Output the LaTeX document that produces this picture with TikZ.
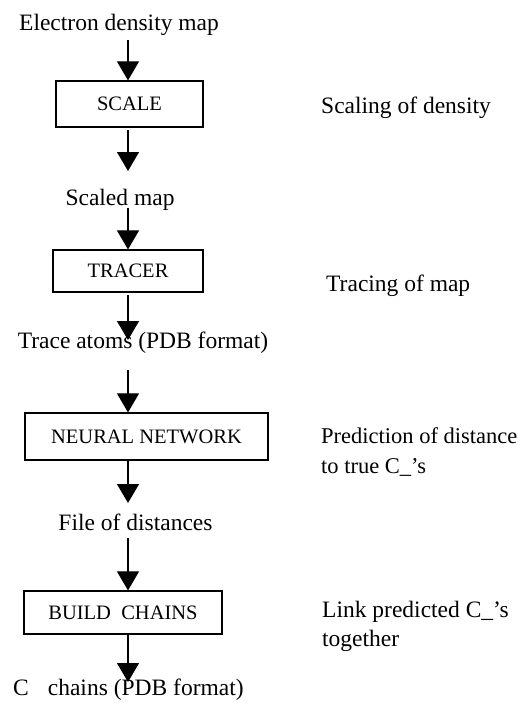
\documentclass[tikz,border=0pt]{standalone}
\usepackage{fontspec}
\setmainfont{Liberation Serif}
\usetikzlibrary{arrows.meta}
\begin{document}
\begin{tikzpicture}[x=1pt,y=-1pt,
  lbl/.style={inner sep=0pt,font=\fontsize{23.5}{28}\selectfont},
  desc/.style={inner sep=0pt,anchor=west,align=left,font=\fontsize{23.5}{29}\selectfont},
  procbox/.style={draw,line width=1.2pt,inner sep=0pt,font=\fontsize{20.5}{24}\selectfont},
  arr/.style={line width=1.1pt,-{Triangle[width=22pt,length=19pt]}}]
\useasboundingbox (0,0) rectangle (530,709);
\node[lbl] (edm) at (119,25) {Electron density map};
\node[procbox,minimum width=147pt,minimum height=46pt] (scale) at (129.5,104) {SCALE};
\node[desc] (scaledesc) at (321,108) {Scaling of density};
\node[lbl] (scaled) at (120,200) {Scaled map};
\node[procbox,minimum width=150pt,minimum height=42pt] (tracer) at (128,271) {TRACER};
\node[desc] (tracedesc) at (326,286) {Tracing of map};
\node[lbl] (trace) at (143,343) {Trace atoms (PDB format)};
\node[procbox,minimum width=243pt,minimum height=47pt] (nn) at (146.5,436.5) {NEURAL NETWORK\hspace{18pt}};
\node[desc,font=\fontsize{22.5}{30}\selectfont] (pred) at (321,452) {Prediction of distance\\to true C\_’s};
\node[lbl] (file) at (135.5,522) {File of distances};
\node[procbox,minimum width=198pt,minimum height=43pt] (build) at (123,612.5) {BUILD\ \ CHAINS};
\node[desc] (link) at (322,626) {Link predicted C\_’s\\together};
\node[lbl,anchor=west] (cchains) at (13,690) {C\hspace{19pt}chains (PDB format)};
\coordinate (a1) at (128,40);
\coordinate (a2) at (128,130);
\coordinate (a3) at (128,208);
\coordinate (a4) at (128,295);
\coordinate (a4e) at (128,340);
\coordinate (a5) at (128,370);
\coordinate (a6) at (128,460);
\coordinate (a6e) at (128,503);
\coordinate (a7) at (128,538);
\coordinate (a8) at (128,634);
\coordinate (a8e) at (128,682);
\draw[arr] (a1) -- (a1 |- scale.north);
\draw[arr] (a2) -- (128,171);
\draw[arr] (a3) -- (a3 |- tracer.north);
\draw[arr] (a4) -- (a4e);
\draw[arr] (a5) -- (a5 |- nn.north);
\draw[arr] (a6) -- (a6e);
\draw[arr] (a7) -- (a7 |- build.north);
\draw[arr] (a8) -- (a8e);
\end{tikzpicture}
\end{document}
